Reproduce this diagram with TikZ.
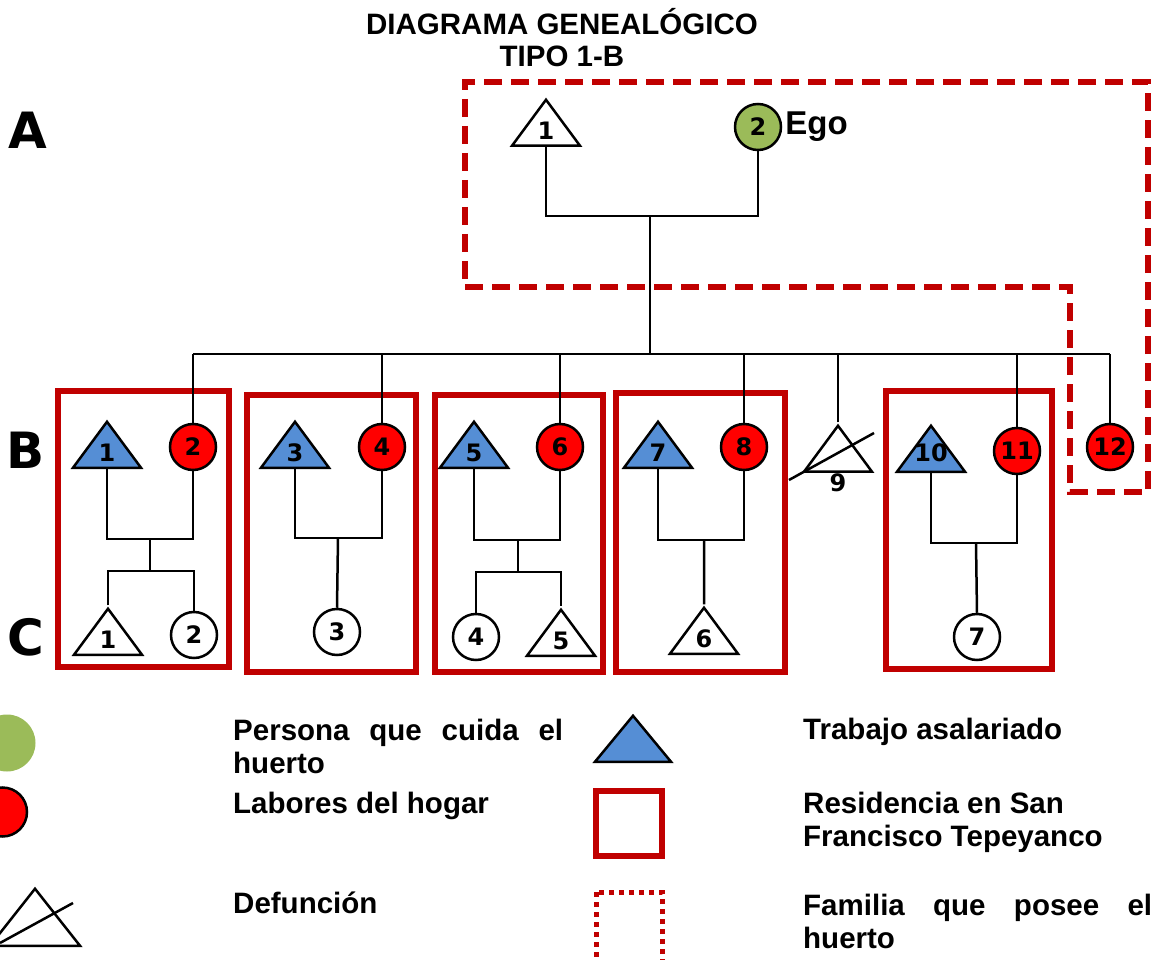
\documentclass[tikz,border=0pt]{standalone}
\usepackage{fontspec}
\setmainfont{Liberation Sans}
\newfontfamily\numfont{DejaVu Sans}
\usetikzlibrary{shapes.geometric}
\definecolor{huertogreen}{RGB}{155,187,89}
\definecolor{hogarred}{RGB}{255,0,0}
\definecolor{salblue}{RGB}{85,142,213}
\definecolor{resred}{RGB}{192,0,0}
\tolerance=9999

\begin{document}
\begin{tikzpicture}[x=1pt,y=-1pt,
  kin/.style={draw=black,line width=2.5pt,inner sep=0pt,font=\numfont\bfseries\fontsize{24}{24}\selectfont},
  circ/.style={kin,circle,minimum size=46pt},
  tri/.style={kin,isosceles triangle,shape border rotate=90,isosceles triangle stretches,minimum width=68pt,minimum height=46pt,anchor=south},
  link/.style={line width=2.5pt},
  resbox/.style={draw=resred,line width=5.5pt},
  famline/.style={draw=resred,line width=6pt,dash pattern=on 18pt off 9pt},
  gen/.style={font=\numfont\bfseries\fontsize{50}{50}\selectfont},
  leg/.style={font=\bfseries\fontsize{29.5}{33}\selectfont,anchor=base west,inner sep=0pt,align=left}]
\useasboundingbox (0,0) rectangle (1157,960);

\node[font=\bfseries\fontsize{29.5}{32}\selectfont,align=center,inner sep=0pt,anchor=base] (title) at (562,67) {DIAGRAMA GENEALÓGICO\\TIPO 1-B};

\node[gen] (genA) at (28,130) {A};
\node[gen] (genB) at (26,450) {B};
\node[gen] (genC) at (26,637) {C};

% residencia
\draw[resbox] (58,391) rectangle (229,667);
\draw[resbox] (247,395) rectangle (416,672);
\draw[resbox] (435,395) rectangle (603,672);
\draw[resbox] (616,393) rectangle (785,672);
\draw[resbox] (886,391) rectangle (1052,669);

% generacion A
\node[tri,fill=white] (a1) at (546,147) {1};
\node[circ,fill=huertogreen] (a2) at (758,127) {2};
\node[anchor=west,inner sep=3pt,font=\bfseries\fontsize{33}{33}\selectfont] (ego) at (a2.east) {Ego};
\coordinate (am) at (650,216);
\coordinate (sibL) at (193,354);
\draw[link] (a1.south) |- (am) -| (a2.south);

% generacion B
\node[tri,fill=salblue] (b1) at (107,469) {1};
\node[circ,fill=hogarred] (b2) at (193,447) {2};
\node[tri,fill=salblue] (b3) at (295,469) {3};
\node[circ,fill=hogarred] (b4) at (382,447) {4};
\node[tri,fill=salblue] (b5) at (474,469) {5};
\node[circ,fill=hogarred] (b6) at (560,447) {6};
\node[tri,fill=salblue] (b7) at (658,469) {7};
\node[circ,fill=hogarred] (b8) at (744,447) {8};
\node[tri,fill=white,label={[font=\numfont\bfseries\fontsize{24}{24}\selectfont,inner sep=1pt]below:9}] (b9) at (838,473) {};
\node[tri,fill=salblue] (b10) at (931,473) {\makebox[0pt]{10}};
\node[circ,fill=hogarred] (b11) at (1017,451) {11};
\node[circ,fill=hogarred] (b12) at (1110,447) {12};
\draw[link] (b9.south) ++(-49,7) coordinate (d9a) -- ++(85,-47) coordinate (d9b);

\draw[link] (am) -- (am |- sibL);
\draw[link] (b2.north |- sibL) -- (b12.north |- sibL);
\foreach \k in {b2,b4,b6,b8,b9,b11,b12}
  \draw[link] (\k.north) -- (\k.north |- sibL);

% generacion C
\node[tri,fill=white] (c1) at (108,656) {1};
\node[circ,fill=white] (c2) at (194,635) {2};
\node[circ,fill=white] (c3) at (337,632) {3};
\node[circ,fill=white] (c4) at (476,637) {4};
\node[tri,fill=white] (c5) at (561,657) {5};
\node[tri,fill=white] (c6) at (704,655) {6};
\node[circ,fill=white] (c7) at (977,637) {7};

\coordinate (cp1) at (150,539);
\coordinate (cp2) at (338,538);
\coordinate (cp3) at (518,540);
\coordinate (cp4) at (704,540);
\coordinate (cp5) at (976,543);
\draw[link] (b1.south) |- (cp1) -| (b2.south);
\draw[link] (b3.south) |- (cp2) -| (b4.south);
\draw[link] (b5.south) |- (cp3) -| (b6.south);
\draw[link] (b7.south) |- (cp4) -| (b8.south);
\draw[link] (b10.south) |- (cp5) -| (b11.south);
\draw[link] (cp1) -- ++(0,32) coordinate (sp1);
\draw[link] (cp3) -- ++(0,32) coordinate (sp3);
\draw[link] (c1.north) |- (sp1) -| (c2.north);
\draw[link] (c4.north) |- (sp3) -| (c5.north);
\draw[link] (cp2) -- (c3.north);
\draw[link] (cp4) -- (c6.north);
\draw[link] (cp5) -- (c7.north);

% familia que posee el huerto
\draw[famline] (465,287) -- (1070,287) -- (1070,492) -- (1148,492) -- (1148,82) -- (465,82) -- cycle;

% leyenda
\node[circle,fill=huertogreen,minimum size=57pt,inner sep=0pt] (lgreen) at (7,743) {};
\node[circ,fill=hogarred,minimum size=49pt] (lred) at (2.5,812) {};
\node[tri,fill=white,minimum width=90pt,minimum height=57pt] (ldead) at (35,947) {};
\draw[link] (ldead.south) ++(-35,-4) coordinate (lda) -- ++(73,-40) coordinate (ldb);
\node[tri,fill=salblue,minimum width=76pt,minimum height=46pt] (lblue) at (633,763) {};
\draw[resbox] (596,791) rectangle (662,856);
\draw[draw=resred,line width=5pt,dash pattern=on 5pt off 5pt] (596,892) rectangle (662,975);

\node[leg] (t1) at (233,773) {\makebox[330pt][s]{Persona que cuida el}\\huerto};
\node[leg] (t2) at (233,813) {Labores del hogar};
\node[leg] (t3) at (233,913) {Defunción};
\node[leg] (t4) at (803,739) {Trabajo asalariado};
\node[leg] (t5) at (803,846) {Residencia en San\\Francisco Tepeyanco};
\node[leg] (t6) at (803,948) {\makebox[349pt][s]{Familia que posee el}\\huerto};
\end{tikzpicture}
\end{document}
